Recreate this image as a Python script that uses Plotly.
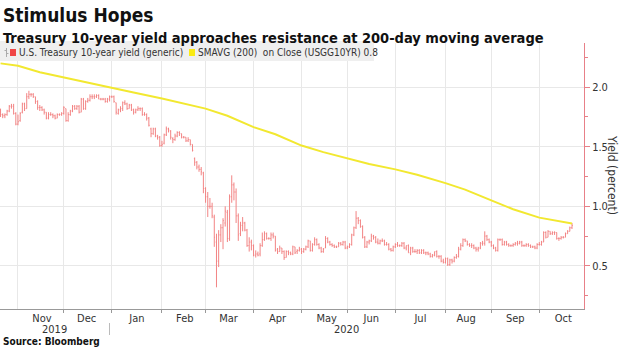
import pandas as pd
import plotly.graph_objects as go

# ---------------- data (US 10Y generic yield, daily OHLC, weekdays 2019-10-22 .. 2020-10-22) ----
yield_open = [
    1.80, 1.77, 1.76, 1.77, 1.80, 1.84, 1.84, 1.78,
    1.69, 1.72, 1.79, 1.86, 1.82, 1.92, 1.94, 1.94, 1.92, 1.88, 1.83, 1.83, 1.81, 1.79, 1.74, 1.77, 1.77, 1.76, 1.74, 1.77, 1.77,
    1.78, 1.82, 1.72, 1.77, 1.80, 1.84, 1.82, 1.84, 1.79, 1.90, 1.82, 1.88, 1.89, 1.92, 1.92, 1.92, 1.93, 1.90, 1.90, 1.90, 1.88, 1.90,
    1.92, 1.92, 1.87, 1.78, 1.81, 1.82, 1.87, 1.86, 1.82, 1.85, 1.81, 1.79, 1.81, 1.82, 1.82, 1.77, 1.77, 1.74, 1.65, 1.61, 1.65, 1.59, 1.58,
    1.51, 1.53, 1.60, 1.65, 1.63, 1.57, 1.56, 1.59, 1.62, 1.61, 1.58, 1.58, 1.55, 1.56, 1.52, 1.40, 1.37, 1.33, 1.31, 1.28,
    1.15, 1.08, 1.00, 1.00, 0.91, 0.70, 0.54, 0.76, 0.82, 0.86, 0.95, 0.73, 1.08, 1.18, 1.12, 0.92, 0.77, 0.84, 0.86, 0.80, 0.67, 0.70,
    0.67, 0.59, 0.60, 0.60, 0.67, 0.72, 0.77, 0.73, 0.73, 0.76, 0.75, 0.64, 0.62, 0.65, 0.62, 0.57, 0.62, 0.61, 0.60, 0.66, 0.62, 0.63,
    0.64, 0.62, 0.64, 0.66, 0.71, 0.63, 0.68, 0.72, 0.68, 0.65, 0.62, 0.65, 0.73, 0.70, 0.68, 0.67, 0.66, 0.66, 0.69, 0.68, 0.70,
    0.65, 0.66, 0.68, 0.76, 0.82, 0.90, 0.88, 0.83, 0.74, 0.66, 0.70, 0.71, 0.75, 0.74, 0.70, 0.69, 0.71, 0.71, 0.68, 0.68, 0.64, 0.63,
    0.66, 0.68, 0.67, 0.67, 0.69, 0.65, 0.67, 0.61, 0.65, 0.62, 0.62, 0.63, 0.61, 0.63, 0.61, 0.61, 0.60, 0.58, 0.59, 0.62, 0.58, 0.58, 0.54,
    0.53, 0.56, 0.51, 0.55, 0.54, 0.57, 0.58, 0.64, 0.67, 0.72, 0.71, 0.68, 0.67, 0.67, 0.65, 0.64, 0.65, 0.69, 0.69, 0.75, 0.72,
    0.70, 0.67, 0.65, 0.63, 0.72, 0.72, 0.68, 0.70, 0.68, 0.67, 0.67, 0.68, 0.69, 0.69, 0.70, 0.67, 0.67, 0.68, 0.67, 0.66, 0.66, 0.65,
    0.68, 0.68, 0.70, 0.78, 0.74, 0.79, 0.77, 0.78, 0.78, 0.73, 0.73, 0.74, 0.74, 0.77, 0.79, 0.82,
]
yield_high = [
    1.82, 1.78, 1.78, 1.81, 1.85, 1.86, 1.86, 1.79,
    1.77, 1.79, 1.87, 1.87, 1.95, 1.97, 1.95, 1.95, 1.92, 1.89, 1.85, 1.84, 1.82, 1.79, 1.79, 1.79, 1.78, 1.77, 1.78, 1.78, 1.79,
    1.84, 1.82, 1.79, 1.81, 1.85, 1.85, 1.85, 1.85, 1.91, 1.91, 1.89, 1.91, 1.94, 1.94, 1.94, 1.94, 1.94, 1.91, 1.91, 1.91, 1.91, 1.93,
    1.93, 1.93, 1.87, 1.82, 1.84, 1.88, 1.89, 1.87, 1.86, 1.86, 1.82, 1.82, 1.84, 1.83, 1.83, 1.79, 1.78, 1.75, 1.66, 1.66, 1.66, 1.60, 1.59,
    1.55, 1.61, 1.67, 1.66, 1.64, 1.58, 1.61, 1.63, 1.63, 1.61, 1.59, 1.58, 1.58, 1.56, 1.52, 1.41, 1.38, 1.35, 1.33, 1.29,
    1.16, 1.12, 1.07, 1.03, 0.93, 0.77, 0.80, 0.85, 0.90, 1.00, 0.97, 1.10, 1.26, 1.20, 1.15, 0.94, 0.87, 0.91, 0.87, 0.81, 0.74, 0.72,
    0.68, 0.63, 0.62, 0.69, 0.78, 0.79, 0.78, 0.74, 0.78, 0.78, 0.75, 0.65, 0.67, 0.65, 0.63, 0.63, 0.63, 0.62, 0.67, 0.66, 0.64, 0.66,
    0.65, 0.65, 0.67, 0.72, 0.71, 0.69, 0.74, 0.73, 0.69, 0.66, 0.65, 0.75, 0.74, 0.71, 0.69, 0.68, 0.67, 0.70, 0.70, 0.71, 0.71,
    0.67, 0.69, 0.77, 0.83, 0.96, 0.91, 0.89, 0.84, 0.75, 0.71, 0.72, 0.77, 0.76, 0.75, 0.73, 0.72, 0.73, 0.72, 0.70, 0.69, 0.65, 0.67,
    0.69, 0.70, 0.68, 0.70, 0.70, 0.67, 0.68, 0.66, 0.66, 0.64, 0.64, 0.64, 0.64, 0.64, 0.62, 0.62, 0.61, 0.60, 0.62, 0.63, 0.59, 0.59, 0.56,
    0.57, 0.57, 0.56, 0.56, 0.58, 0.60, 0.66, 0.69, 0.73, 0.73, 0.71, 0.69, 0.69, 0.68, 0.66, 0.66, 0.70, 0.71, 0.79, 0.76, 0.73,
    0.71, 0.68, 0.66, 0.73, 0.73, 0.73, 0.71, 0.71, 0.69, 0.68, 0.69, 0.70, 0.71, 0.71, 0.71, 0.68, 0.69, 0.69, 0.68, 0.67, 0.67, 0.69,
    0.70, 0.71, 0.79, 0.79, 0.80, 0.79, 0.79, 0.79, 0.78, 0.74, 0.75, 0.75, 0.78, 0.80, 0.83, 0.86,
]
yield_low = [
    1.75, 1.74, 1.74, 1.76, 1.79, 1.82, 1.77, 1.68,
    1.68, 1.71, 1.78, 1.80, 1.82, 1.90, 1.92, 1.91, 1.86, 1.81, 1.80, 1.80, 1.77, 1.73, 1.73, 1.76, 1.74, 1.73, 1.74, 1.76, 1.76,
    1.77, 1.71, 1.71, 1.76, 1.79, 1.81, 1.81, 1.78, 1.79, 1.81, 1.81, 1.87, 1.88, 1.90, 1.90, 1.91, 1.90, 1.89, 1.89, 1.87, 1.87, 1.88,
    1.91, 1.87, 1.77, 1.77, 1.79, 1.80, 1.85, 1.81, 1.82, 1.80, 1.77, 1.78, 1.80, 1.80, 1.76, 1.76, 1.72, 1.67, 1.58, 1.60, 1.58, 1.56, 1.50,
    1.50, 1.52, 1.59, 1.62, 1.56, 1.53, 1.55, 1.58, 1.59, 1.57, 1.57, 1.54, 1.54, 1.51, 1.46, 1.34, 1.31, 1.29, 1.26, 1.11,
    1.03, 0.91, 0.98, 0.90, 0.66, 0.32, 0.49, 0.70, 0.64, 0.83, 0.70, 0.71, 1.03, 1.05, 0.86, 0.71, 0.75, 0.79, 0.79, 0.66, 0.62, 0.63,
    0.58, 0.57, 0.58, 0.58, 0.66, 0.71, 0.72, 0.72, 0.71, 0.73, 0.62, 0.60, 0.62, 0.60, 0.55, 0.57, 0.59, 0.59, 0.59, 0.60, 0.60, 0.62,
    0.60, 0.61, 0.63, 0.65, 0.62, 0.62, 0.67, 0.67, 0.64, 0.61, 0.61, 0.65, 0.69, 0.67, 0.66, 0.65, 0.65, 0.66, 0.67, 0.67, 0.64,
    0.64, 0.65, 0.67, 0.75, 0.81, 0.85, 0.82, 0.73, 0.65, 0.65, 0.68, 0.70, 0.72, 0.69, 0.68, 0.68, 0.70, 0.67, 0.67, 0.63, 0.62, 0.62,
    0.65, 0.66, 0.66, 0.66, 0.64, 0.63, 0.61, 0.59, 0.61, 0.61, 0.60, 0.60, 0.60, 0.60, 0.59, 0.59, 0.57, 0.57, 0.58, 0.57, 0.56, 0.53, 0.52,
    0.52, 0.50, 0.50, 0.52, 0.53, 0.56, 0.57, 0.63, 0.66, 0.70, 0.67, 0.66, 0.65, 0.64, 0.62, 0.62, 0.64, 0.67, 0.67, 0.71, 0.69,
    0.66, 0.64, 0.62, 0.62, 0.71, 0.67, 0.67, 0.67, 0.66, 0.66, 0.66, 0.67, 0.67, 0.68, 0.66, 0.66, 0.66, 0.66, 0.65, 0.65, 0.64, 0.64,
    0.67, 0.67, 0.70, 0.73, 0.74, 0.76, 0.76, 0.76, 0.72, 0.71, 0.72, 0.73, 0.74, 0.77, 0.79, 0.81,
]
yield_close = [
    1.77, 1.76, 1.77, 1.80, 1.84, 1.84, 1.78, 1.69,
    1.71, 1.78, 1.86, 1.82, 1.92, 1.94, 1.94, 1.92, 1.88, 1.83, 1.83, 1.81, 1.79, 1.74, 1.77, 1.77, 1.76, 1.74, 1.77, 1.77, 1.78,
    1.83, 1.72, 1.77, 1.80, 1.84, 1.82, 1.84, 1.79, 1.90, 1.82, 1.88, 1.89, 1.92, 1.92, 1.92, 1.93, 1.90, 1.90, 1.90, 1.88, 1.90, 1.92,
    1.92, 1.88, 1.79, 1.81, 1.82, 1.87, 1.86, 1.82, 1.85, 1.81, 1.79, 1.81, 1.82, 1.82, 1.77, 1.77, 1.74, 1.68, 1.61, 1.65, 1.59, 1.58, 1.51,
    1.52, 1.60, 1.65, 1.64, 1.58, 1.56, 1.59, 1.62, 1.61, 1.58, 1.58, 1.55, 1.56, 1.52, 1.47, 1.37, 1.33, 1.31, 1.29, 1.15,
    1.08, 1.00, 1.00, 0.92, 0.74, 0.54, 0.76, 0.82, 0.88, 0.96, 0.73, 1.08, 1.18, 1.12, 0.92, 0.76, 0.84, 0.86, 0.80, 0.67, 0.70, 0.67,
    0.59, 0.60, 0.59, 0.67, 0.72, 0.77, 0.73, 0.73, 0.76, 0.75, 0.63, 0.62, 0.65, 0.62, 0.57, 0.62, 0.61, 0.60, 0.66, 0.61, 0.63, 0.64,
    0.62, 0.64, 0.66, 0.71, 0.63, 0.68, 0.72, 0.68, 0.65, 0.62, 0.64, 0.73, 0.70, 0.68, 0.67, 0.66, 0.66, 0.69, 0.68, 0.70, 0.65,
    0.66, 0.68, 0.76, 0.82, 0.90, 0.88, 0.83, 0.74, 0.66, 0.70, 0.71, 0.75, 0.74, 0.70, 0.69, 0.71, 0.71, 0.68, 0.68, 0.64, 0.63, 0.66,
    0.68, 0.67, 0.67, 0.69, 0.65, 0.67, 0.61, 0.65, 0.62, 0.62, 0.63, 0.61, 0.63, 0.61, 0.61, 0.60, 0.58, 0.59, 0.62, 0.58, 0.58, 0.54, 0.53,
    0.56, 0.51, 0.55, 0.54, 0.57, 0.58, 0.64, 0.67, 0.72, 0.71, 0.68, 0.67, 0.67, 0.65, 0.64, 0.65, 0.69, 0.69, 0.75, 0.72, 0.70,
    0.67, 0.65, 0.63, 0.72, 0.72, 0.68, 0.70, 0.68, 0.67, 0.67, 0.68, 0.69, 0.69, 0.70, 0.67, 0.67, 0.68, 0.67, 0.66, 0.66, 0.65, 0.68,
    0.68, 0.70, 0.78, 0.74, 0.79, 0.77, 0.78, 0.78, 0.73, 0.73, 0.74, 0.74, 0.77, 0.79, 0.82, 0.84,
]

# 200-day simple moving average
sma_dates = ["2019-10-22", "2019-11-01", "2019-11-15", "2019-12-02", "2019-12-16", "2020-01-02",
             "2020-01-15", "2020-02-03", "2020-02-14", "2020-03-02", "2020-03-16", "2020-04-01",
             "2020-04-15", "2020-05-01", "2020-05-15", "2020-06-01", "2020-06-15", "2020-07-01",
             "2020-07-15", "2020-08-03", "2020-08-14", "2020-09-01", "2020-09-15", "2020-10-01",
             "2020-10-22"]
sma_values = [2.20, 2.18, 2.125, 2.08, 2.04, 1.99, 1.955, 1.905, 1.865, 1.82, 1.76, 1.665,
              1.605, 1.51, 1.455, 1.40, 1.355, 1.31, 1.265, 1.195, 1.14, 1.05, 0.975, 0.905, 0.855]

title_text = "Stimulus Hopes"
subtitle_text = "Treasury 10-year yield approaches resistance at 200-day moving average"
legend_names = ["U.S. Treasury 10-year yield (generic)", "SMAVG (200)  on Close (USGG10YR) 0.8"]
year_labels = ["2019", "2020"]
y_title = "Yield (percent)"
source_text = "Source: Bloomberg"

trade_dates = pd.bdate_range("2019-10-22", "2020-10-22")
n = min(len(trade_dates), len(yield_close), len(yield_open), len(yield_high), len(yield_low))

# ---------------- style ----------------
FONT = "DejaVu Sans Condensed, DejaVu Sans, sans-serif"
RED = "rgb(242,132,132)"
AXRED = "rgb(232,128,136)"
YELLOW = "rgb(242,232,48)"
GRID = "#e8e8e8"
TXT = "#333333"

W, H = 620, 348
ML, MR, MT, MB = 0, 36, 43, 39
PW, PH = W - ML - MR, H - MT - MB


def px_x(px):
    return (px - ML) / PW


def px_y(py):
    return (H - MB - py) / PH


fig = go.Figure()
fig.add_trace(go.Ohlc(
    x=trade_dates[:n], open=yield_open[:n], high=yield_high[:n], low=yield_low[:n], close=yield_close[:n],
    increasing=dict(line=dict(color=RED, width=1)),
    decreasing=dict(line=dict(color=RED, width=1)),
    tickwidth=0.35, showlegend=False, hoverinfo="skip"))
fig.add_trace(go.Scatter(
    x=sma_dates, y=sma_values, mode="lines",
    line=dict(color=YELLOW, width=2), showlegend=False, hoverinfo="skip"))

fig.update_layout(
    width=W, height=H,
    margin=dict(l=ML, r=MR, t=MT, b=MB, pad=0),
    paper_bgcolor="white", plot_bgcolor="white",
    showlegend=False,
    font=dict(family=FONT, size=11, color=TXT),
    xaxis=dict(
        type="date",
        range=["2019-10-21 18:00", "2020-10-29 12:00"],
        rangebreaks=[dict(bounds=["sat", "mon"])],
        dtick="M1", tick0="2019-11-01",
        ticklabelmode="period", tickformat="%b",
        ticks="outside", ticklen=3, tickcolor="#999999",
        ticklabelstandoff=-4,
        showline=True, linecolor="#999999", linewidth=1,
        showgrid=True, gridcolor=GRID, gridwidth=1,
        zeroline=False, rangeslider=dict(visible=False), fixedrange=True,
        tickfont=dict(family=FONT, size=11, color=TXT),
    ),
    yaxis=dict(
        side="right", range=[0.138, 2.371],
        tick0=0.5, dtick=0.5, tickformat=".1f",
        ticks="outside", ticklen=5, tickcolor=AXRED,
        showline=True, linecolor=AXRED, linewidth=1,
        showgrid=True, gridcolor=GRID, gridwidth=1, zeroline=False,
        minor=dict(dtick=0.25, tick0=0, ticks="outside", ticklen=3, tickcolor=AXRED, showgrid=False),
        tickfont=dict(family=FONT, size=11, color=TXT), fixedrange=True,
    ),
)

# legend band and glyphs
shapes = [
    dict(type="rect", xref="paper", yref="paper", x0=0, x1=px_x(374), y0=px_y(61), y1=px_y(41),
         fillcolor="#efefef", line=dict(width=0), layer="above"),
    dict(type="rect", xref="paper", yref="paper", x0=px_x(10), x1=px_x(16), y0=px_y(56), y1=px_y(49),
         fillcolor="rgb(240,70,70)", line=dict(width=0), layer="above"),
    dict(type="rect", xref="paper", yref="paper", x0=px_x(189), x1=px_x(195), y0=px_y(56), y1=px_y(49),
         fillcolor="rgb(250,235,20)", line=dict(width=0), layer="above"),
    dict(type="path", xref="paper", yref="paper",
         path=f"M {px_x(6.5)},{px_y(48)} L {px_x(6.5)},{px_y(57)} M {px_x(4.5)},{px_y(50.5)} L {px_x(6.5)},{px_y(50.5)}"
              f" M {px_x(6.5)},{px_y(53.5)} L {px_x(8.5)},{px_y(53.5)}",
         line=dict(color="#aaaaaa", width=1), layer="above"),
    # year separator
    dict(type="line", xref="paper", yref="paper", x0=px_x(109.5), x1=px_x(109.5), y0=px_y(323), y1=px_y(335),
         line=dict(color="#bbbbbb", width=1)),
]
fig.update_layout(shapes=shapes)

ann = [
    dict(text=f"<b>{title_text}</b>", x=px_x(1), y=px_y(15), font=dict(size=19, color="#111111")),
    dict(text=f"<b>{subtitle_text}</b>", x=px_x(1), y=px_y(37.5), font=dict(size=14.5, color="#111111")),
    dict(text=legend_names[0], x=px_x(17), y=px_y(52.5), font=dict(size=10, color=TXT)),
    dict(text=legend_names[1], x=px_x(196), y=px_y(52.5), font=dict(size=10, color=TXT)),
    dict(text=year_labels[0], x=px_x(54.5), y=px_y(329), xanchor="center", font=dict(size=11, color=TXT)),
    dict(text=year_labels[1], x=px_x(346), y=px_y(329), xanchor="center", font=dict(size=11, color=TXT)),
    dict(text=f"<b>{source_text}</b>", x=px_x(1), y=px_y(341.5), font=dict(size=10, color="#111111")),
    dict(text=y_title, x=px_x(612), y=px_y(175), xanchor="center", textangle=90,
         font=dict(size=12, color=TXT)),
]
for a in ann:
    a.setdefault("xanchor", "left")
    a.update(xref="paper", yref="paper", yanchor="middle", showarrow=False)
    a["font"].setdefault("family", FONT)
fig.update_layout(annotations=ann)

fig.write_html("out.html")
